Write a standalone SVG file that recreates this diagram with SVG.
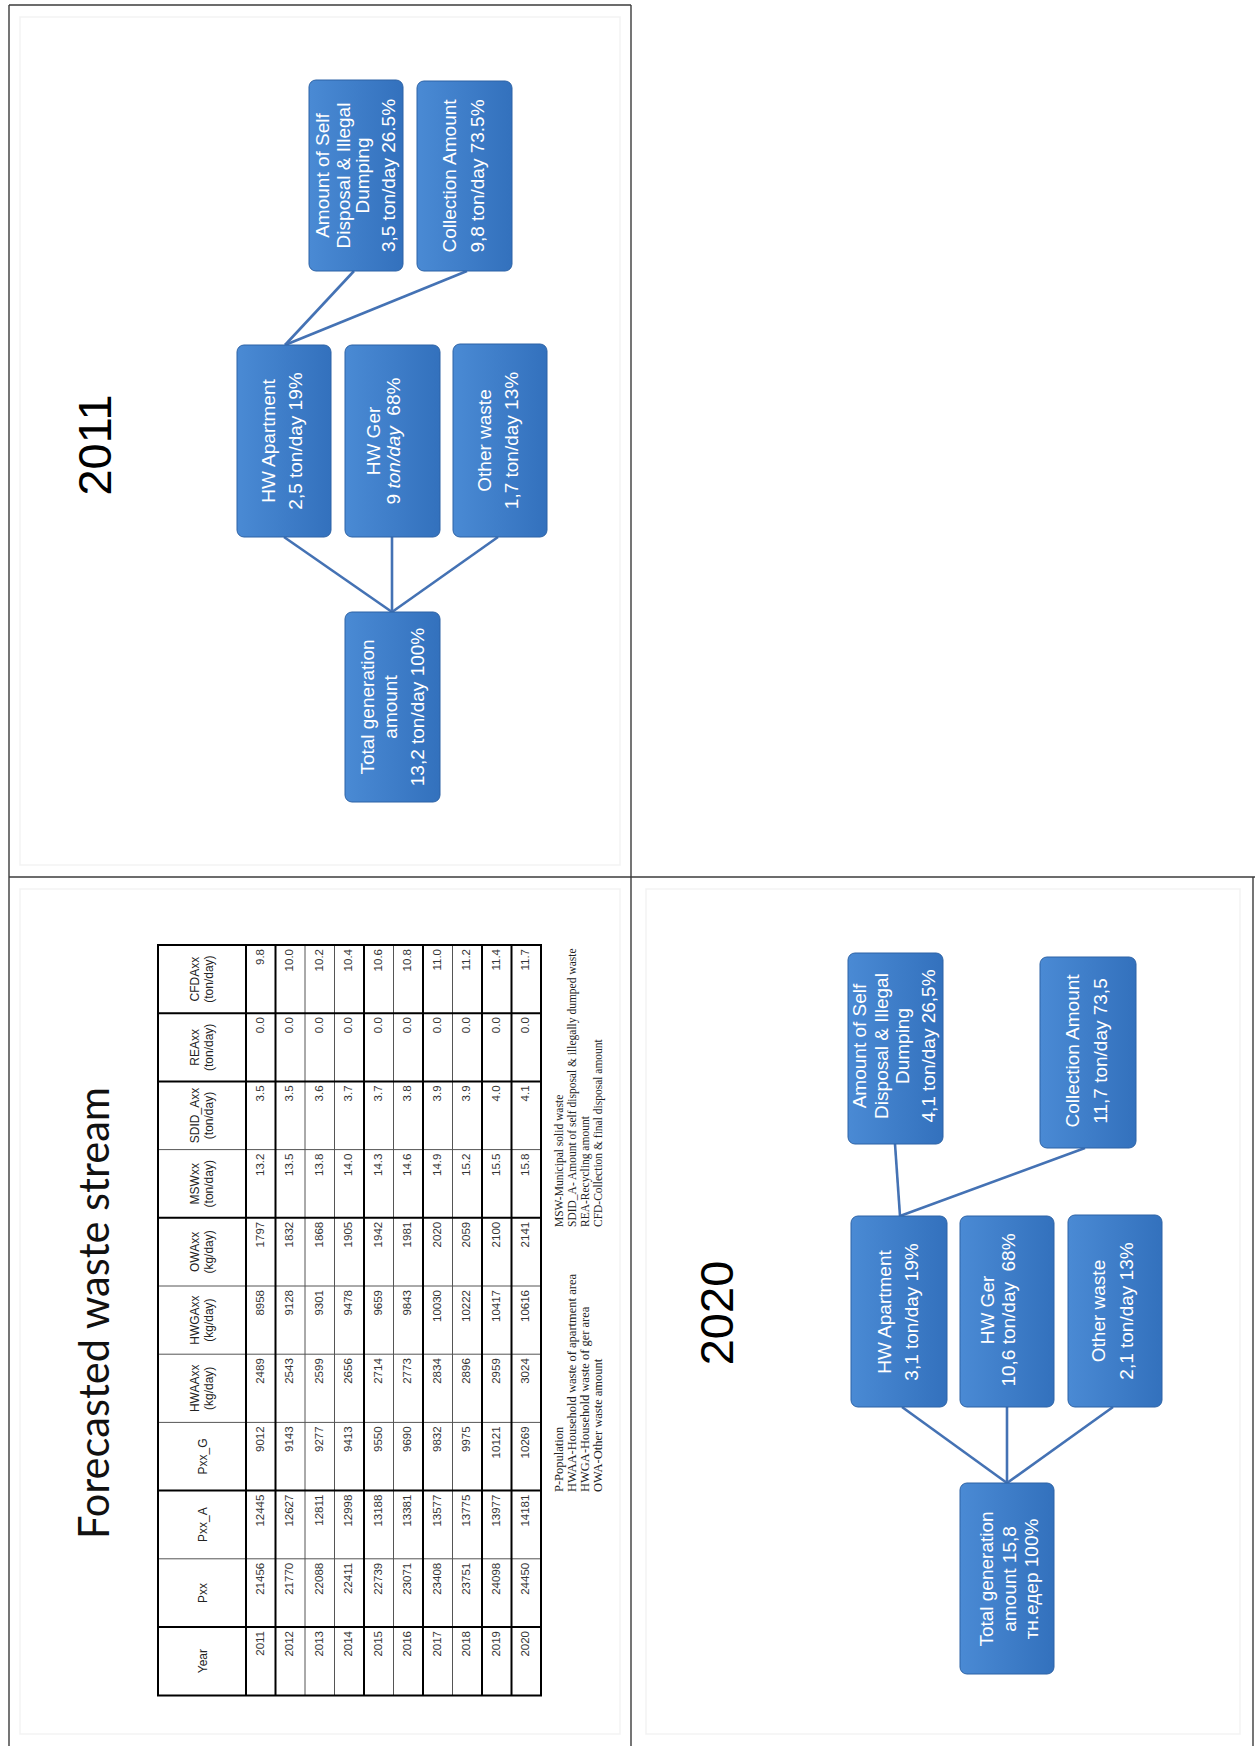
<svg xmlns="http://www.w3.org/2000/svg" width="1255" height="1746" viewBox="0 0 1255 1746">
<defs>
<linearGradient id="bg" x1="0" y1="0" x2="1" y2="0">
<stop offset="0" stop-color="#4a8ad4"/>
<stop offset="1" stop-color="#3371bd"/>
</linearGradient>
<style>
.frame{stroke:#3c3c3c;stroke-width:1.4;fill:none}
.faint{stroke:#f3f3f3;stroke-width:1.5;fill:none}
.box{fill:url(#bg);stroke:#2d63a6;stroke-width:1}
.bt{font-family:"Liberation Sans",Arial,sans-serif;font-size:19px;fill:#ffffff;text-anchor:middle}
.conn line{stroke:#4472b4;stroke-width:2.6}
.yr{font-family:"Liberation Sans",Arial,sans-serif;font-size:47px;fill:#000;text-anchor:middle}
.ttl{font-family:Lato,"Open Sans",sans-serif;font-size:42px;fill:#111;text-anchor:middle}
.tk{stroke:#000;stroke-width:2;fill:none}
.tn{stroke:#555;stroke-width:1;fill:none}
.th{font-family:"Liberation Sans",Arial,sans-serif;font-size:12px;fill:#222;text-anchor:middle}
.td text{font-family:"Liberation Sans",Arial,sans-serif;font-size:11.5px;fill:#333;text-anchor:end}
.lg{font-family:"Liberation Serif","Times New Roman",serif;font-size:11.5px;fill:#222}
.lg2{font-family:"Liberation Serif","Times New Roman",serif;font-size:12.5px;fill:#222}
</style>
</defs>
<rect x="0" y="0" width="1255" height="1746" fill="#ffffff"/>

<g id="frames">
<rect class="faint" x="20" y="17" width="600" height="848"/>
<rect class="faint" x="20" y="889" width="600" height="845"/>
<rect class="faint" x="646" y="889" width="594" height="845"/>
<path class="frame" d="M9,5 V1746 M9,5 H631 M631,5 V1746 M9,877 H1255 M1253,877 V1746"/>
</g>

<g id="connectors" class="conn">
<line x1="285" y1="345" x2="354" y2="271"/>
<line x1="285" y1="345" x2="467" y2="271"/>
<line x1="392" y1="612" x2="284" y2="537"/>
<line x1="392" y1="612" x2="392" y2="537"/>
<line x1="392" y1="612" x2="498" y2="537"/>
<line x1="900" y1="1216" x2="895" y2="1144"/>
<line x1="900" y1="1216" x2="1085" y2="1148"/>
<line x1="1007" y1="1483" x2="902" y2="1407"/>
<line x1="1007" y1="1483" x2="1007" y2="1407"/>
<line x1="1007" y1="1483" x2="1113" y2="1407"/>
</g>

<g id="title2011"><text class="yr" transform="translate(0,1746) rotate(-90)" x="1301" y="111">2011</text></g>

<g id="self2011">
<rect class="box" x="309" y="80" width="94" height="191" rx="7"/>
<text class="bt" transform="translate(0,1746) rotate(-90)"><tspan x="1570.5" y="329">Amount of Self</tspan><tspan x="1570.5" y="350">Disposal &amp; Illegal</tspan><tspan x="1570.5" y="369">Dumping</tspan><tspan x="1570.5" y="395">3,5 ton/day 26.5%</tspan></text>
</g>
<g id="coll2011">
<rect class="box" x="417" y="81" width="95" height="190" rx="7"/>
<text class="bt" transform="translate(0,1746) rotate(-90)"><tspan x="1570" y="456">Collection Amount</tspan><tspan x="1570" y="484">9,8 ton/day 73.5%</tspan></text>
</g>
<g id="apt2011">
<rect class="box" x="237" y="345" width="94" height="192" rx="7"/>
<text class="bt" transform="translate(0,1746) rotate(-90)"><tspan x="1305" y="275">HW Apartment</tspan><tspan x="1305" y="302">2,5 ton/day 19%</tspan></text>
</g>
<g id="ger2011">
<rect class="box" x="345" y="345" width="95" height="192" rx="7"/>
<text class="bt" transform="translate(0,1746) rotate(-90)"><tspan x="1305" y="380">HW Ger</tspan><tspan x="1305" y="400">9 <tspan font-style="italic">ton/day</tspan>&#160; 68%</tspan></text>
</g>
<g id="other2011">
<rect class="box" x="453" y="344" width="94" height="193" rx="7"/>
<text class="bt" transform="translate(0,1746) rotate(-90)"><tspan x="1305.5" y="491">Other waste</tspan><tspan x="1305.5" y="518">1,7 ton/day 13%</tspan></text>
</g>
<g id="total2011">
<rect class="box" x="345" y="612" width="95" height="190" rx="7"/>
<text class="bt" transform="translate(0,1746) rotate(-90)"><tspan x="1039" y="374">Total generation</tspan><tspan x="1039" y="397">amount</tspan><tspan x="1039" y="424">13,2 ton/day 100%</tspan></text>
</g>

<g id="title2020"><text class="yr" transform="translate(0,1746) rotate(-90)" x="433" y="733">2020</text></g>

<g id="self2020">
<rect class="box" x="848" y="953" width="95" height="191" rx="7"/>
<text class="bt" transform="translate(0,1746) rotate(-90)"><tspan x="700" y="866">Amount of Self</tspan><tspan x="700" y="888">Disposal &amp; Illegal</tspan><tspan x="700" y="909">Dumping</tspan><tspan x="700" y="935">4,1 ton/day 26,5%</tspan></text>
</g>
<g id="coll2020">
<rect class="box" x="1040" y="957" width="96" height="191" rx="7"/>
<text class="bt" transform="translate(0,1746) rotate(-90)"><tspan x="695" y="1079">Collection Amount</tspan><tspan x="695" y="1107">11,7 ton/day 73,5</tspan></text>
</g>
<g id="apt2020">
<rect class="box" x="851" y="1216" width="96" height="191" rx="7"/>
<text class="bt" transform="translate(0,1746) rotate(-90)"><tspan x="434" y="891">HW Apartment</tspan><tspan x="434" y="918">3,1 ton/day 19%</tspan></text>
</g>
<g id="ger2020">
<rect class="box" x="960" y="1216" width="94" height="191" rx="7"/>
<text class="bt" transform="translate(0,1746) rotate(-90)"><tspan x="436" y="994">HW Ger</tspan><tspan x="436" y="1015">10,6 ton/day&#160; 68%</tspan></text>
</g>
<g id="other2020">
<rect class="box" x="1068" y="1215" width="94" height="192" rx="7"/>
<text class="bt" transform="translate(0,1746) rotate(-90)"><tspan x="435" y="1105">Other waste</tspan><tspan x="435" y="1133">2,1 ton/day 13%</tspan></text>
</g>
<g id="total2020">
<rect class="box" x="960" y="1483" width="94" height="191" rx="7"/>
<text class="bt" transform="translate(0,1746) rotate(-90)"><tspan x="167" y="993">Total generation</tspan><tspan x="167" y="1016">amount 15,8</tspan><tspan x="167" y="1038">тн.едер 100%</tspan></text>
</g>

<g id="tableTitle"><text class="ttl" transform="translate(0,1746) rotate(-90)" x="433" y="109" textLength="452" lengthAdjust="spacingAndGlyphs">Forecasted waste stream</text></g>

<g id="table">
<path class="tn" d="M305,945 V1695 M334.5,945 V1695 M393.5,945 V1695 M452.5,945 V1695 M158,1149.6 H541 M158,1286 H541 M158,1354.2 H541 M158,1422.4 H541 M158,1558.8 H541"/>
<path class="tk" d="M246,945 V1695 M275.5,945 V1695 M364,945 V1695 M423,945 V1695 M482,945 V1695 M511.5,945 V1695 M158,1013.2 H541 M158,1081.4 H541 M158,1217.8 H541 M158,1490.6 H541 M158,1627 H541"/>
<rect class="tk" x="158" y="945" width="383" height="750.5"/>
<g transform="translate(0,1746) rotate(-90)">
<text class="th" x="84.9" y="207">Year</text>
<text class="th" x="153.1" y="207">Pxx</text>
<text class="th" x="221.3" y="207">Pxx_A</text>
<text class="th" x="289.5" y="207">Pxx_G</text>
<text class="th"><tspan x="357.7" y="199">HWAAxx</tspan><tspan x="357.7" y="213">(kg/day)</tspan></text>
<text class="th"><tspan x="425.9" y="199">HWGAxx</tspan><tspan x="425.9" y="213">(kg/day)</tspan></text>
<text class="th"><tspan x="494.1" y="199">OWAxx</tspan><tspan x="494.1" y="213">(kg/day)</tspan></text>
<text class="th"><tspan x="562.3" y="199">MSWxx</tspan><tspan x="562.3" y="213">(ton/day)</tspan></text>
<text class="th"><tspan x="630.5" y="199">SDID_Axx</tspan><tspan x="630.5" y="213">(ton/day)</tspan></text>
<text class="th"><tspan x="698.7" y="199">REAxx</tspan><tspan x="698.7" y="213">(ton/day)</tspan></text>
<text class="th"><tspan x="766.9" y="199">CFDAxx</tspan><tspan x="766.9" y="213">(ton/day)</tspan></text>
<g class="td" transform="translate(0,263.5)"><text x="115">2011</text><text x="183.2">21456</text><text x="251.4">12445</text><text x="319.6">9012</text><text x="387.8">2489</text><text x="456">8958</text><text x="524.2">1797</text><text x="592.4">13.2</text><text x="660.6">3.5</text><text x="728.8">0.0</text><text x="797">9.8</text></g>
<g class="td" transform="translate(0,293)"><text x="115">2012</text><text x="183.2">21770</text><text x="251.4">12627</text><text x="319.6">9143</text><text x="387.8">2543</text><text x="456">9128</text><text x="524.2">1832</text><text x="592.4">13.5</text><text x="660.6">3.5</text><text x="728.8">0.0</text><text x="797">10.0</text></g>
<g class="td" transform="translate(0,322.5)"><text x="115">2013</text><text x="183.2">22088</text><text x="251.4">12811</text><text x="319.6">9277</text><text x="387.8">2599</text><text x="456">9301</text><text x="524.2">1868</text><text x="592.4">13.8</text><text x="660.6">3.6</text><text x="728.8">0.0</text><text x="797">10.2</text></g>
<g class="td" transform="translate(0,352)"><text x="115">2014</text><text x="183.2">22411</text><text x="251.4">12998</text><text x="319.6">9413</text><text x="387.8">2656</text><text x="456">9478</text><text x="524.2">1905</text><text x="592.4">14.0</text><text x="660.6">3.7</text><text x="728.8">0.0</text><text x="797">10.4</text></g>
<g class="td" transform="translate(0,381.5)"><text x="115">2015</text><text x="183.2">22739</text><text x="251.4">13188</text><text x="319.6">9550</text><text x="387.8">2714</text><text x="456">9659</text><text x="524.2">1942</text><text x="592.4">14.3</text><text x="660.6">3.7</text><text x="728.8">0.0</text><text x="797">10.6</text></g>
<g class="td" transform="translate(0,411)"><text x="115">2016</text><text x="183.2">23071</text><text x="251.4">13381</text><text x="319.6">9690</text><text x="387.8">2773</text><text x="456">9843</text><text x="524.2">1981</text><text x="592.4">14.6</text><text x="660.6">3.8</text><text x="728.8">0.0</text><text x="797">10.8</text></g>
<g class="td" transform="translate(0,440.5)"><text x="115">2017</text><text x="183.2">23408</text><text x="251.4">13577</text><text x="319.6">9832</text><text x="387.8">2834</text><text x="456">10030</text><text x="524.2">2020</text><text x="592.4">14.9</text><text x="660.6">3.9</text><text x="728.8">0.0</text><text x="797">11.0</text></g>
<g class="td" transform="translate(0,470)"><text x="115">2018</text><text x="183.2">23751</text><text x="251.4">13775</text><text x="319.6">9975</text><text x="387.8">2896</text><text x="456">10222</text><text x="524.2">2059</text><text x="592.4">15.2</text><text x="660.6">3.9</text><text x="728.8">0.0</text><text x="797">11.2</text></g>
<g class="td" transform="translate(0,499.5)"><text x="115">2019</text><text x="183.2">24098</text><text x="251.4">13977</text><text x="319.6">10121</text><text x="387.8">2959</text><text x="456">10417</text><text x="524.2">2100</text><text x="592.4">15.5</text><text x="660.6">4.0</text><text x="728.8">0.0</text><text x="797">11.4</text></g>
<g class="td" transform="translate(0,529)"><text x="115">2020</text><text x="183.2">24450</text><text x="251.4">14181</text><text x="319.6">10269</text><text x="387.8">3024</text><text x="456">10616</text><text x="524.2">2141</text><text x="592.4">15.8</text><text x="660.6">4.1</text><text x="728.8">0.0</text><text x="797">11.7</text></g>
</g>
</g>

<g id="legend" transform="translate(0,1746) rotate(-90)">
<text class="lg2"><tspan x="254" y="563">P-Population</tspan><tspan x="254" y="576">HWAA-Household waste of apartment area</tspan><tspan x="254" y="589">HWGA-Household waste of ger area</tspan><tspan x="254" y="602">OWA-Other waste amount</tspan></text>
<text class="lg"><tspan x="519" y="563">MSW-Municipal solid waste</tspan><tspan x="519" y="576">SDID_A- Amount of self disposal &amp; illegally dumped waste</tspan><tspan x="519" y="589">REA-Recycling amount</tspan><tspan x="519" y="602">CFD-Collection &amp; final disposal amount</tspan></text>
</g>
</svg>
